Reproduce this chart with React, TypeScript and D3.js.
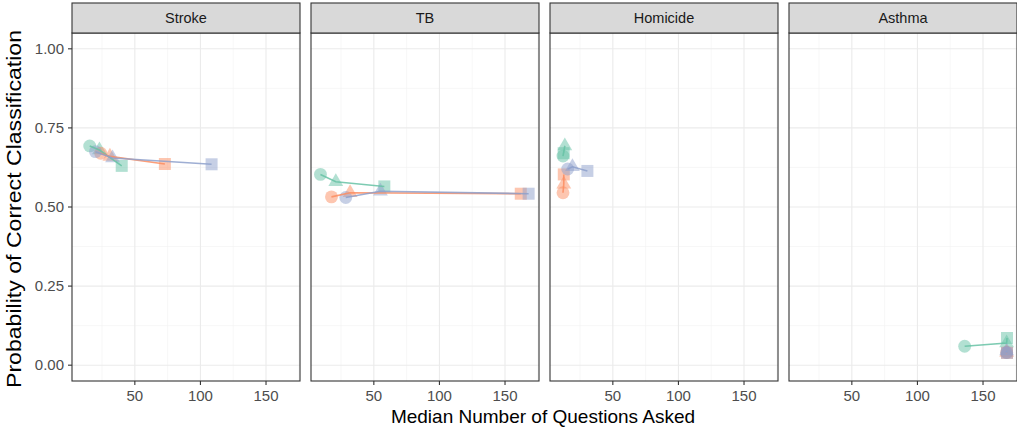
import React, { useRef, useEffect } from "react";
import * as d3 from "d3";

// facets and series
const panels = ["Stroke", "TB", "Homicide", "Asthma"];
const seriesColors = ["#66C2A5", "#FC8D62", "#8DA0CB"];
const shapes = ["circle", "triangle", "square"];

// median questions asked (x) per panel, per series: [circle, triangle, square]
const greenX = [[15.6, 23, 40], [9.3, 21, 58], [12, 13.4, 12.5], [136, 168, 168.3]];
const orangeX = [[24, 31, 72.9], [17.7, 31.9, 162], [12, 12.6, 12.6], [168, 168, 168.3]];
const blueX = [[20, 33, 108.5], [28.6, 55, 168], [15.6, 19.2, 30.6], [168, 168, 168.3]];

// probability of correct classification (y)
const greenY = [[0.693, 0.68, 0.63], [0.603, 0.58, 0.565], [0.661, 0.693, 0.67], [0.06, 0.07, 0.086]];
const orangeY = [[0.67, 0.66, 0.636], [0.532, 0.545, 0.542], [0.545, 0.572, 0.603], [0.04, 0.04, 0.039]];
const blueY = [[0.675, 0.655, 0.635], [0.53, 0.55, 0.542], [0.62, 0.627, 0.614], [0.04, 0.045, 0.039]];

const yTicks = [0, 0.25, 0.5, 0.75, 1];
const xTicks = [50, 100, 150];

const App = () => {
  const svgRef = useRef<SVGSVGElement>(null);

  useEffect(() => {
    const svg = d3.select(svgRef.current);
    svg.selectAll("*").remove();

    const font = "Liberation Sans, Arial, sans-serif";
    const panelLeft = 72;
    const panelW = 228;
    const gap = 11;
    const stripTop = 3;
    const plotTop = 33;
    const plotBottom = 381;

    const x = d3.scaleLinear().domain([2.1, 175.9]).range([0, panelW]);
    const y = d3.scaleLinear().domain([-0.05, 1.05]).range([plotBottom, plotTop]);

    const allX = [greenX, orangeX, blueX];
    const allY = [greenY, orangeY, blueY];

    const symbolType: Record<string, d3.SymbolType> = {
      circle: d3.symbolCircle,
      triangle: d3.symbolTriangle,
      square: d3.symbolSquare,
    };
    const symbolSize: Record<string, number> = { circle: 130, triangle: 95, square: 144 };

    panels.forEach((name, p) => {
      const g = svg.append("g").attr("transform", `translate(${panelLeft + p * (panelW + gap)},0)`);

      // background
      g.append("rect").attr("x", 0).attr("y", plotTop).attr("width", panelW)
        .attr("height", plotBottom - plotTop).attr("fill", "white");

      // minor grid
      const minorX = [25, 75, 125, 175];
      const minorY = [0.125, 0.375, 0.625, 0.875];
      g.selectAll(".mx").data(minorX).enter().append("line")
        .attr("x1", (d) => x(d)).attr("x2", (d) => x(d))
        .attr("y1", plotTop).attr("y2", plotBottom)
        .attr("stroke", "#f2f2f2").attr("stroke-width", 0.6);
      g.selectAll(".my").data(minorY).enter().append("line")
        .attr("x1", 0).attr("x2", panelW)
        .attr("y1", (d) => y(d)).attr("y2", (d) => y(d))
        .attr("stroke", "#f2f2f2").attr("stroke-width", 0.6);
      // major grid
      g.selectAll(".gx").data(xTicks).enter().append("line")
        .attr("x1", (d) => x(d)).attr("x2", (d) => x(d))
        .attr("y1", plotTop).attr("y2", plotBottom)
        .attr("stroke", "#ebebeb").attr("stroke-width", 1.1);
      g.selectAll(".gy").data(yTicks).enter().append("line")
        .attr("x1", 0).attr("x2", panelW)
        .attr("y1", (d) => y(d)).attr("y2", (d) => y(d))
        .attr("stroke", "#ebebeb").attr("stroke-width", 1.1);

      // points
      seriesColors.forEach((col, s) => {
        shapes.forEach((shp, k) => {
          g.append("path")
            .attr("d", d3.symbol().type(symbolType[shp]).size(symbolSize[shp])())
            .attr("transform", `translate(${x(allX[s][p][k])},${y(allY[s][p][k])})`)
            .attr("fill", col)
            .attr("opacity", 0.5);
        });
      });

      // lines
      seriesColors.forEach((col, s) => {
        const pts = shapes.map((_, k) => [x(allX[s][p][k]), y(allY[s][p][k])] as [number, number]);
        g.append("path")
          .attr("d", d3.line()(pts))
          .attr("fill", "none")
          .attr("stroke", col)
          .attr("stroke-width", 1.6)
          .attr("opacity", 0.85);
      });

      // border
      g.append("rect").attr("x", 0).attr("y", plotTop).attr("width", panelW)
        .attr("height", plotBottom - plotTop).attr("fill", "none")
        .attr("stroke", "#333333").attr("stroke-width", 1.1);

      // strip
      g.append("rect").attr("x", 0).attr("y", stripTop).attr("width", panelW)
        .attr("height", plotTop - stripTop).attr("fill", "#d9d9d9")
        .attr("stroke", "#333333").attr("stroke-width", 1.1);
      g.append("text").attr("x", panelW / 2).attr("y", (stripTop + plotTop) / 2 + 5)
        .attr("text-anchor", "middle").attr("font-family", font).attr("font-size", 14.5)
        .attr("fill", "#1a1a1a").text(name);

      // x axis
      const xAxis = g.append("g").attr("transform", `translate(0,${plotBottom})`);
      xAxis.selectAll("line").data(xTicks).enter().append("line")
        .attr("x1", (d) => x(d)).attr("x2", (d) => x(d))
        .attr("y1", 0).attr("y2", 4).attr("stroke", "#333333").attr("stroke-width", 1.1);
      xAxis.selectAll("text").data(xTicks).enter().append("text")
        .attr("x", (d) => x(d)).attr("y", 20).attr("text-anchor", "middle")
        .attr("font-family", font).attr("font-size", 15).attr("fill", "#4d4d4d")
        .text((d) => d);

      // y axis on first panel
      if (p === 0) {
        const yAxis = g.append("g");
        yAxis.selectAll("line").data(yTicks).enter().append("line")
          .attr("x1", -4).attr("x2", 0)
          .attr("y1", (d) => y(d)).attr("y2", (d) => y(d))
          .attr("stroke", "#333333").attr("stroke-width", 1.1);
        yAxis.selectAll("text").data(yTicks).enter().append("text")
          .attr("x", -8).attr("y", (d) => y(d) + 5).attr("text-anchor", "end")
          .attr("font-family", font).attr("font-size", 15).attr("fill", "#4d4d4d")
          .text((d) => d3.format(".2f")(d));
      }
    });

    // axis titles
    svg.append("text").attr("x", 543).attr("y", 423).attr("text-anchor", "middle")
      .attr("font-family", font).attr("font-size", 19).attr("fill", "black")
      .text("Median Number of Questions Asked");
    svg.append("text").attr("transform", `translate(21,209) rotate(-90)`)
      .attr("text-anchor", "middle")
      .attr("font-family", font).attr("font-size", 20).attr("fill", "black")
      .attr("textLength", 358).attr("lengthAdjust", "spacingAndGlyphs")
      .text("Probability of Correct Classification");
  }, []);

  return (
    <svg ref={svgRef} width={1017} height={428} style={{ position: "absolute", left: 0, top: 0 }} />
  );
};

export default App;
